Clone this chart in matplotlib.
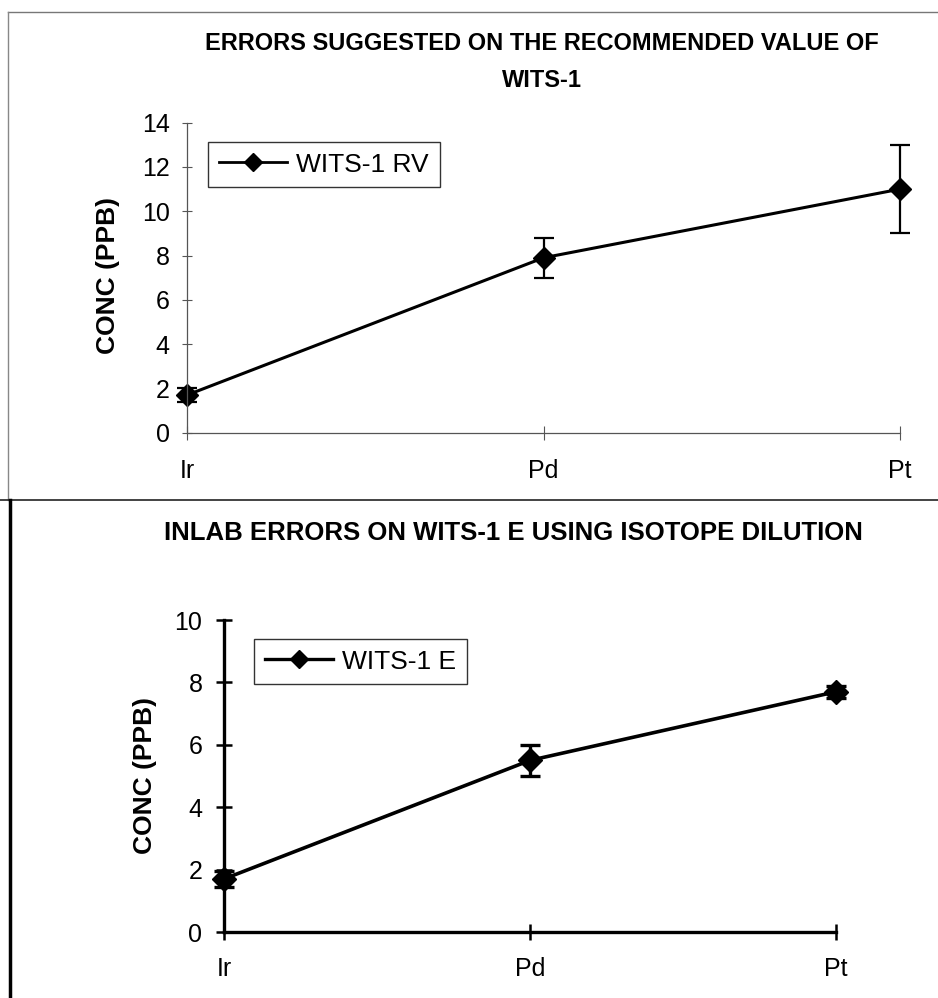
import matplotlib
matplotlib.use("Agg")
import matplotlib.pyplot as plt
from matplotlib.lines import Line2D

plt.rcParams['font.family'] = ['Liberation Sans', 'DejaVu Sans']

W, H = 938, 998

# data
elements = ['Ir', 'Pd', 'Pt']
rv_values = [1.7, 7.9, 11.0]
rv_errors = [0.3, 0.9, 2.0]
e_values = [1.7, 5.5, 7.7]
e_errors = [0.25, 0.5, 0.2]

title_top = 'ERRORS SUGGESTED ON THE RECOMMENDED VALUE OF\nWITS-1'
title_bottom = 'INLAB ERRORS ON WITS-1 E USING ISOTOPE DILUTION'
ylabel = 'CONC (PPB)'


def fx(x):
    return x / W


def fy(y):
    return 1 - y / H


def box(x0, y_top, x1, y_bot):
    return [fx(x0), fy(y_bot), fx(x1) - fx(x0), fy(y_top) - fy(y_bot)]


def legend_for(ax, label, x, y, lw):
    handle = Line2D([], [], color='k', marker='D', lw=lw, ms=9)
    ax.legend(handles=[handle], labels=[label], loc='upper left',
              bbox_to_anchor=(fx(x), fy(y)), bbox_transform=fig.transFigure,
              fontsize=19, frameon=True, fancybox=False, edgecolor='#333333',
              framealpha=1, handlelength=2.6, handletextpad=0.35,
              borderpad=0.4, borderaxespad=0)


fig = plt.figure(figsize=(W / 100, H / 100), dpi=100)
xs = list(range(len(elements)))

# ---- top panel ----
ax1 = fig.add_axes(box(187, 122.7, 900, 432.7))
c1 = ax1.errorbar(xs, rv_values, yerr=rv_errors, fmt='-D', color='k', lw=2.2,
                  ms=11, capsize=7, capthick=1.6, elinewidth=1.6)
ax1.set_xlim(0, 2)
ax1.set_ylim(0, 14)
ax1.set_yticks(range(0, 15, 2))
ax1.set_xticks(xs)
ax1.set_xticklabels(elements)
for s in ['top', 'right']:
    ax1.spines[s].set_visible(False)
for s in ['left', 'bottom']:
    ax1.spines[s].set_color('#555555')
    ax1.spines[s].set_linewidth(0.9)
ax1.tick_params(axis='y', direction='inout', length=7, width=0.8, color='#555555',
                labelsize=18, pad=9)
ax1.tick_params(axis='x', direction='inout', length=9.4, width=0.8, color='#555555',
                labelsize=18, pad=14)
legend_for(ax1, 'WITS-1 RV', 208, 142, 2.0)

fig.text(fx(542), fy(62), title_top, ha='center', va='center', fontsize=17,
         fontweight='bold', linespacing=1.75)
fig.text(fx(108), fy(275), ylabel, rotation=90, ha='center', va='center',
         fontsize=19, fontweight='bold')

# ---- bottom panel ----
ax2 = fig.add_axes(box(224, 620, 836, 932))
c2 = ax2.errorbar(xs, e_values, yerr=e_errors, fmt='-D', color='k', lw=2.6,
                  ms=12, capsize=7, capthick=2.4, elinewidth=2.4)
ax2.set_xlim(0, 2)
ax2.set_ylim(0, 10)
ax2.set_yticks(range(0, 11, 2))
ax2.set_xticks(xs)
ax2.set_xticklabels(elements)
for s in ['top', 'right']:
    ax2.spines[s].set_visible(False)
for s in ['left', 'bottom']:
    ax2.spines[s].set_color('k')
    ax2.spines[s].set_linewidth(2.4)
ax2.tick_params(axis='y', direction='inout', length=11, width=1.8, labelsize=18, pad=10)
ax2.tick_params(axis='x', direction='inout', length=11.5, width=1.8, labelsize=18, pad=12)
legend_for(ax2, 'WITS-1 E', 254, 639, 2.4)

fig.text(fx(513), fy(533), title_bottom, ha='center', va='center', fontsize=18.5,
         fontweight='bold')
fig.text(fx(145), fy(776), ylabel, rotation=90, ha='center', va='center',
         fontsize=19, fontweight='bold')

# markers sit on the axes edges
for c in (c1, c2):
    c[0].set_clip_on(False)
    for a in c[1] + c[2]:
        a.set_clip_on(False)

# page frame lines
fig.add_artist(Line2D([fx(8), fx(938)], [fy(12), fy(12)], color='#777777', lw=1))
fig.add_artist(Line2D([fx(8), fx(8)], [fy(12), fy(500)], color='#888888', lw=1))
fig.add_artist(Line2D([fx(0), fx(938)], [fy(500), fy(500)], color='#222222', lw=1.2))
fig.add_artist(Line2D([fx(10), fx(10)], [fy(500), fy(998)], color='k', lw=2.5))

fig.savefig('out.png', dpi=100)
